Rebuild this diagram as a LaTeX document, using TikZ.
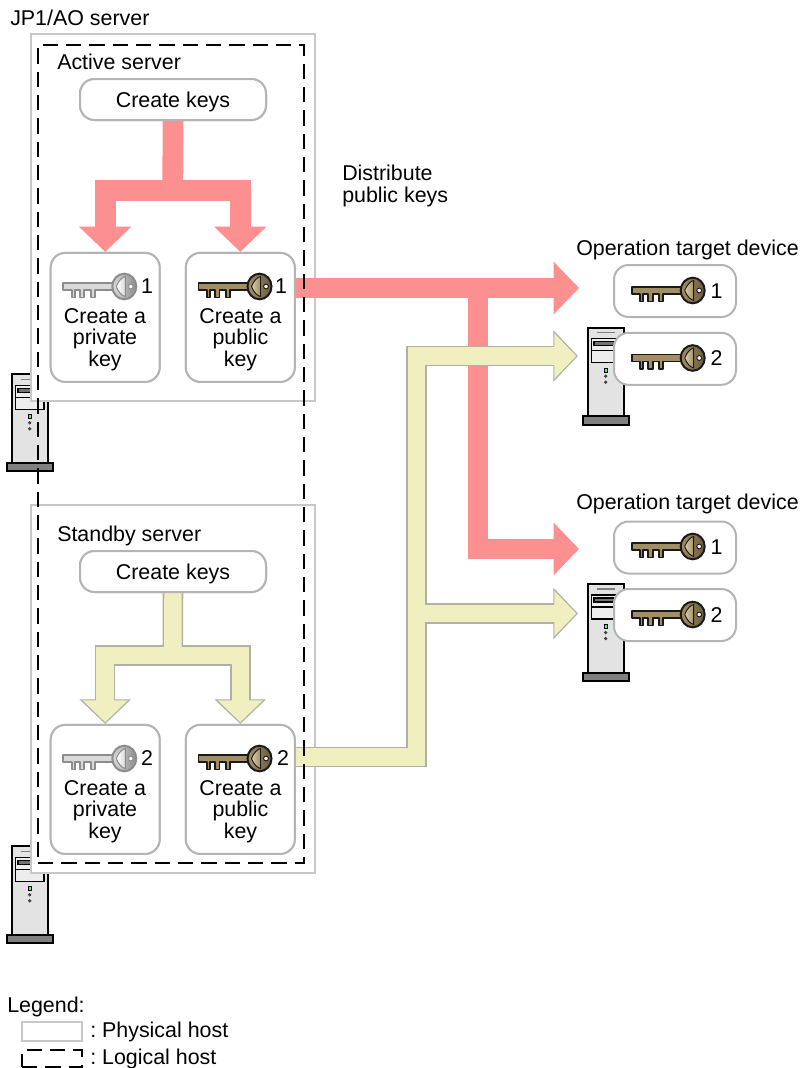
\documentclass[tikz,border=0pt]{standalone}
\usepackage{fontspec}
\setmainfont{Liberation Sans}
\usetikzlibrary{arrows.meta}
\frenchspacing
\definecolor{hostgray}{HTML}{C8C8C8}
\definecolor{boxgray}{HTML}{B4B4B4}
\definecolor{pinkarrow}{HTML}{FC9090}
\definecolor{creamarrow}{HTML}{F0EFC0}
\definecolor{creamedge}{HTML}{B0B0A8}
\definecolor{keytan}{HTML}{A38D62}
\definecolor{keylight}{HTML}{D9CFB0}
\definecolor{keysilver}{HTML}{D9D9D9}
\definecolor{keyrim}{HTML}{8C8C8C}
\definecolor{keyblack}{HTML}{1A1A1A}
\begin{document}
\begin{tikzpicture}[x=0.75pt, y=-0.75pt]
        \tikzset{
            every node/.style={font=\fontsize{16.05}{16.1}\selectfont, inner sep=0pt},
            label/.style={anchor=base west},
            hostbox/.style={draw=hostgray, line width=1.5pt, fill=white},
            logical/.style={draw=black, line width=1.5pt, dash pattern=on 11.5pt off 6pt},
            pill/.style={draw=boxgray, line width=1.5pt, fill=white, rounded corners=11pt, minimum width=139.5pt, minimum height=30.75pt, text depth=0pt},
            keybox/.style={draw=boxgray, line width=1.5pt, fill=white, rounded corners=11pt, minimum width=81.75pt, minimum height=96.75pt},
            targetbox/.style={draw=boxgray, line width=1.5pt, fill=white, rounded corners=11pt, minimum width=91.5pt, minimum height=39pt},
            pinkflow/.style={draw=pinkarrow, line width=15.6pt, -{Triangle[length=19pt, width=38.25pt, color=pinkarrow]}},
            creamout/.style={draw=creamedge, line width=15.4pt, -{Triangle[length=18.4pt, width=37.5pt, color=creamedge]}},
            creamin/.style={draw=creamarrow, line width=13.1pt, shorten >=1.3pt, -{Triangle[length=16.4pt, width=33pt, color=creamarrow]}},
            pics/server/.style={code={
                \draw [line width=1.5pt, fill=black!11] (0,0) rectangle (35.5,89);
                \draw [line width=1.5pt, fill=black!50] (-5.3,88.7) rectangle (40.7,97);
                \draw [line width=0.8pt, fill=black!7] (3.7,11) rectangle (32,35);
                \draw [line width=0.8pt] (3.7,23) -- (32,23);
                \draw [line width=0.8pt, fill=black!55] (6,14) rectangle (30,18);
                \draw [line width=0.8pt, black!50] (9,5) -- (27,5);
                \draw [line width=0.7pt, fill=green!70!white] (16,40.5) rectangle (19.5,44.5);
                \fill [black!75] (17.7,48.5) circle (1.8) (17.7,54.5) circle (1.8);
            }},
            pics/keyicon/.style n args={3}{code={
                \draw [line width=1.4pt, draw=#1, fill=#2, line join=round]
                    (0,0) -- (52,0) -- (52,7) -- (31.6,7) -- (31.6,14.5) -- (27.3,14.5) -- (27.3,7)
                    -- (21,7) -- (21,14.5) -- (16.6,14.5) -- (16.6,7) -- (11.6,7) -- (11.6,14.5) -- (8.3,14.5) -- (8.3,7)
                    -- (0,7) -- cycle;
                \draw [line width=1.5pt, draw=#1, left color=#2, right color=#2!65!black] (61,3.5) ellipse (12 and 12.8);
                \draw [line width=0.7pt, draw=#1, left color=#3, right color=#2] (53,3.5) .. controls (55,-2) and (59,-6) .. (62,-6.5) -- (62,13.5) .. controls (59,13) and (55,9) .. (53,3.5);
                \draw [line width=0.7pt, draw=#1, fill=white] (67.5,3.5) circle (2.4);
            }}
        }
        \useasboundingbox (0,0) rectangle (801,1068);
        \pic at (12,374.3) {server};
        \pic at (12,846.3) {server};
        \pic at (588,327.7) {server};
        \pic at (588,584) {server};
        \node [hostbox, minimum width=213pt, minimum height=275.25pt] (active) at (173,217.5){};
        \node [hostbox, minimum width=213pt, minimum height=276pt]    (standby) at (173,689){};
        \coordinate (split1) at (172.8,190.3);
        \coordinate (split2) at (172.8,655.4);
        \coordinate (tip1) at (579,288);
        \coordinate (tip2) at (579,549);
        \coordinate (tip3) at (578,356);
        \coordinate (tip4) at (578,613.5);
        \coordinate (bend) at (416.7,757.2);
        \coordinate (fork1) at (478,288);
        \coordinate (fork2) at (416.7,613.5);
        \node [pill]   (keys1) at (173,99.5){};
        \node [pill]   (keys2) at (173,571.5){};
        \node [keybox] (private1) at (105.2,317.4){};
        \node [keybox] (public1)  at (240.3,317.4){};
        \node [keybox] (private2) at (105.2,789.4){};
        \node [keybox] (public2)  at (240.3,789.4){};
        \draw [draw=pinkarrow, line width=15.6pt] (keys1.south) -- (split1);
        \draw [pinkflow] (split1) -| (private1.north);
        \draw [pinkflow] (split1) -| (public1.north);
        \draw [pinkflow] (public1.east |- tip1) -- (tip1);
        \draw [pinkflow] (fork1) |- (tip2);
        \foreach \layer in {creamout, creamin}{
            \draw [style=\layer, -] (keys2.south) -- (split2);
            \draw [style=\layer] (split2) -| (private2.north);
            \draw [style=\layer] (split2) -| (public2.north);
            \draw [style=\layer] (public2.east |- bend) -- (bend) |- (tip3);
            \draw [style=\layer] (fork2) -- (tip4);
        }
        \node [pill]   at (keys1){Create keys};
        \node [pill]   at (keys2){Create keys};
        \node [keybox] at (private1){};
        \node [keybox] at (public1){};
        \node [keybox] at (private2){};
        \node [keybox] at (public2){};
        \node [targetbox] (target1) at (675,291){};
        \node [targetbox] (target2) at (675,358.8){};
        \node [targetbox] (target3) at (675,547.5){};
        \node [targetbox] (target4) at (675,615){};
        \pic at (63.3,283) {keyicon={keyrim}{keysilver}{white}};
        \pic at (198.5,283) {keyicon={keyblack}{keytan}{keylight}};
        \pic at (63.3,755) {keyicon={keyrim}{keysilver}{white}};
        \pic at (198.5,755) {keyicon={keyblack}{keytan}{keylight}};
        \pic at (631.7,287) {keyicon={keyblack}{keytan}{keylight}};
        \pic at (631.7,354.5) {keyicon={keyblack}{keytan}{keylight}};
        \pic at (631.7,543) {keyicon={keyblack}{keytan}{keylight}};
        \pic at (631.7,611) {keyicon={keyblack}{keytan}{keylight}};
        \node (num1) at (147,286.5){1};
        \node (num2) at (281,286.5){1};
        \node (num3) at (147,758.5){2};
        \node (num4) at (283,758.5){2};
        \node (num5) at (716.5,291){1};
        \node (num6) at (716.5,358.5){2};
        \node (num7) at (716.5,547){1};
        \node (num8) at (716.5,615){2};
        \node [align=center] (text1) at (105,339.5){Create a\\private\\key};
        \node [align=center] (text2) at (240.5,339.5){Create a\\public\\key};
        \node [align=center] (text3) at (105,811.5){Create a\\private\\key};
        \node [align=center] (text4) at (240.5,811.5){Create a\\public\\key};
        \node [logical, draw, minimum width=199.5pt, minimum height=613.5pt] (cluster) at (171,454){};
        \node [label] (server)   at (10,25){JP1/AO server};
        \node [label] (actname)  at (57,69){Active server};
        \node [label] (stbname)  at (57,541){Standby server};
        \node [label] (distr1)   at (342,180.5){Distribute};
        \node [label] (distr2)   at (342,202.5){public keys};
        \node [label] (device1)  at (576,255){Operation target device};
        \node [label] (device2)  at (576,509){Operation target device};
        \node [label] (legend)   at (7,1012){Legend:};
        \node [hostbox, minimum width=45pt, minimum height=14pt] (phys) at (52,1031.5){};
        \node [logical, draw, minimum width=45pt, minimum height=12.5pt] (logic) at (52,1058.5){};
        \node [label] (physname) at (90,1037){: Physical host};
        \node [label] (logname)  at (90,1064){: Logical host};
    \end{tikzpicture}
\end{document}
